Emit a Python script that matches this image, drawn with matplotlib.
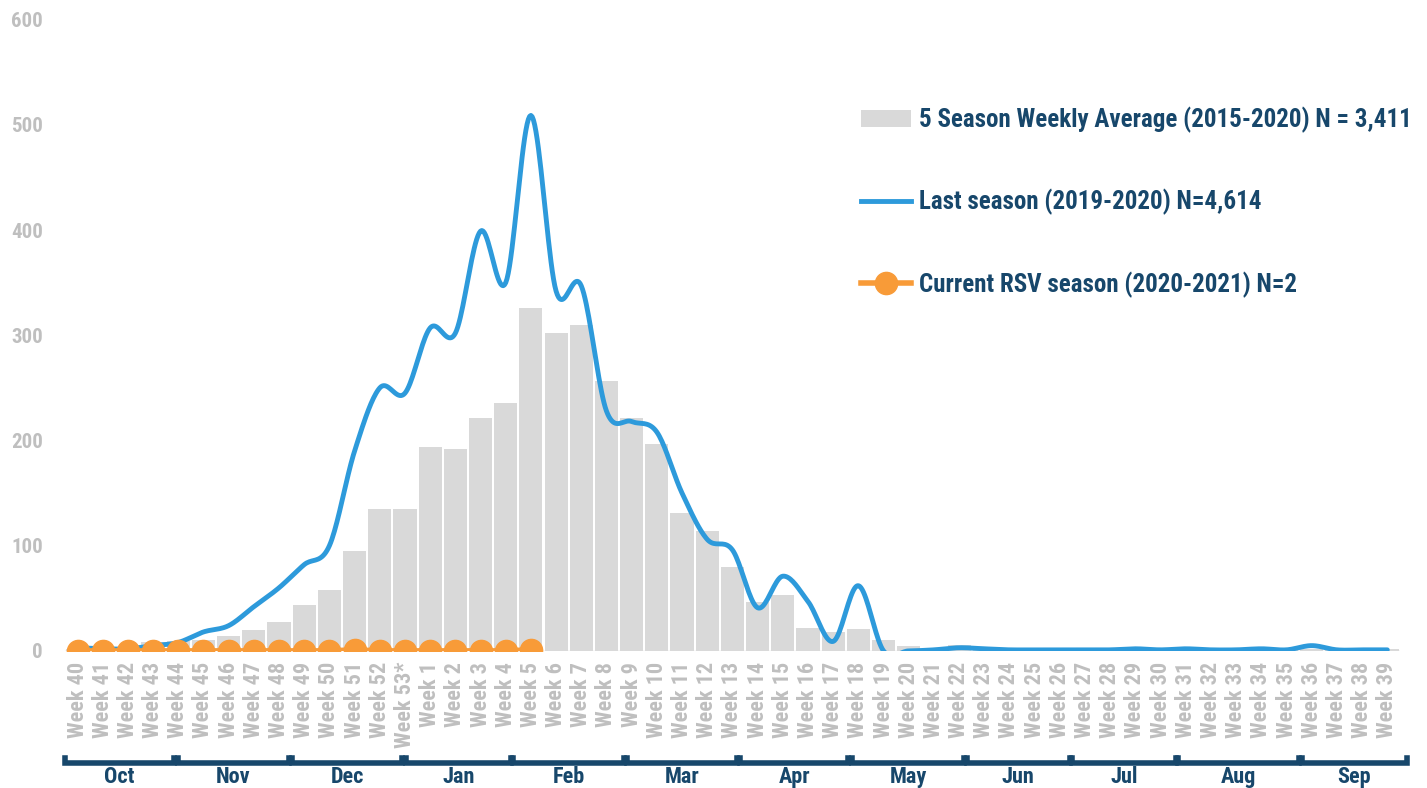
import numpy as np
import matplotlib
matplotlib.use("Agg")
import matplotlib.pyplot as plt
from matplotlib.lines import Line2D
from matplotlib.patches import Patch
from matplotlib.transforms import blended_transform_factory

plt.rcParams['font.family'] = ['Roboto Condensed', 'Roboto', 'DejaVu Sans']
plt.rcParams['font.weight'] = 'bold'

# week labels, Oct -> Sep
week_numbers = list(range(40, 54)) + list(range(1, 40))
week_labels = [f"Week {w}*" if w == 53 else f"Week {w}" for w in week_numbers]

# 5 season weekly average (bars)
avg_5season = [2, 2, 3, 8, 9, 10, 14, 20, 27, 44, 58, 95, 135, 135,
               194, 192, 221, 236, 326, 302, 310, 257, 221, 197, 131, 114, 80, 46,
               53, 22, 18, 21, 10, 5, 3, 6, 2, 2, 2, 2, 2, 2, 2, 2, 2, 2, 2, 2,
               3, 2, 2, 2, 2]

# last season 2019-2020
last_season = [3, 2, 2, 5, 8, 18, 24, 42, 60, 82, 100, 190, 250, 245,
               307, 302, 399, 350, 509, 342, 347, 228, 218, 208, 150, 106, 96, 41,
               71, 47, 9, 62, 0, 0, 1, 3, 2, 1, 1, 1, 1, 1, 2, 1, 2, 1, 1, 2,
               1, 5, 1, 1, 1]

# current season 2020-2021 (weeks 40 .. 5)
current_season = [0, 0, 0, 0, 0, 0, 0, 0, 0, 0, 0, 1, 0, 0, 0, 0, 0, 0, 1]

months = ['Oct', 'Nov', 'Dec', 'Jan', 'Feb', 'Mar', 'Apr', 'May', 'Jun', 'Jul', 'Aug', 'Sep']
# bracket extents in bar-index units (layout only)
month_spans = [(-0.5, 3.85), (3.97, 8.4), (8.5, 12.9), (13.05, 17.2), (17.3, 21.7),
               (21.8, 26.2), (26.3, 30.6), (30.75, 35.2), (35.3, 39.4), (39.5, 43.6),
               (43.7, 48.5), (48.6, 52.8)]

GREY_BAR = '#D9D9D9'
GREY_TXT = '#BFBFBF'
BLUE = '#2D9ADB'
ORANGE = '#F89B38'
NAVY = '#17476B'


def smooth(y, n=20):
    # Bezier smoothing through the points, like a spreadsheet "smoothed line"
    y = np.asarray(y, float)
    x = np.arange(len(y), dtype=float)
    px = np.concatenate([[x[0]], x, [x[-1]]])
    py = np.concatenate([[y[0]], y, [y[-1]]])
    t = np.linspace(0, 1, n, endpoint=False)

    def bez(a, c1, c2, d):
        return ((1 - t) ** 3 * a + 3 * (1 - t) ** 2 * t * c1
                + 3 * (1 - t) * t ** 2 * c2 + t ** 3 * d)

    xs, ys = [], []
    for i in range(1, len(px) - 2):
        c1y = py[i] + (py[i + 1] - py[i - 1]) / 6
        c2y = py[i + 1] - (py[i + 2] - py[i]) / 6
        c1x = px[i] + (px[i + 1] - px[i - 1]) / 6
        c2x = px[i + 1] - (px[i + 2] - px[i]) / 6
        xs.append(bez(px[i], c1x, c2x, px[i + 1]))
        ys.append(bez(py[i], c1y, c2y, py[i + 1]))
    xs.append([x[-1]])
    ys.append([y[-1]])
    return np.concatenate(xs), np.concatenate(ys)


fig = plt.figure(figsize=(14.27, 7.88), dpi=100)
ax = fig.add_axes([0.0455, 0.174, 0.9355, 0.801])

idx = np.arange(len(week_labels))
ax.bar(idx, avg_5season, width=0.92, color=GREY_BAR, zorder=1)

sx, sy = smooth(last_season)
ax.plot(sx, sy, color=BLUE, lw=3.5, zorder=3, solid_capstyle='round')

cx = np.arange(len(current_season))
ax.plot(cx, current_season, color=ORANGE, lw=4, marker='o', markersize=16,
        zorder=4)

ax.axhline(0, color='#D9D9D9', lw=1, zorder=0)

ax.set_xlim(-0.5, len(week_labels) - 0.5)
ax.set_ylim(0, 600)
ax.set_yticks(range(0, 601, 100))
ax.set_xticks(idx)
ax.set_xticklabels(week_labels, rotation=90, color=GREY_TXT, fontsize=16,
                   va='top', ha='center')
ax.tick_params(axis='y', labelcolor=GREY_TXT, labelsize=15, length=0, pad=16)
ax.tick_params(axis='x', length=0, pad=8)
for s in ax.spines.values():
    s.set_visible(False)

# month brackets under the week labels
tr = blended_transform_factory(ax.transData, ax.transAxes)
y_br, y_tip, y_lab = -0.178, -0.169, -0.2
for name, (a, b) in zip(months, month_spans):
    ax.plot([a, a, b, b], [y_tip, y_br, y_br, y_tip], color=NAVY, lw=4,
            transform=tr, clip_on=False, solid_joinstyle='miter')
    ax.text((a + b) / 2, y_lab, name, transform=tr, ha='center', va='center',
            color=NAVY, fontsize=16, fontweight='bold')

handles = [
    Patch(facecolor=GREY_BAR, edgecolor='none'),
    Line2D([], [], color=BLUE, lw=3.5),
    Line2D([], [], color=ORANGE, lw=4, marker='o', markersize=16),
]
labels = [
    '5 Season Weekly Average (2015-2020) N = 3,411',
    'Last season (2019-2020) N=4,614',
    'Current RSV season (2020-2021) N=2',
]
leg = fig.legend(handles, labels, loc='upper left',
                 bbox_to_anchor=(838 / 1427, 1 - 84 / 788), frameon=False,
                 fontsize=18, labelspacing=2.25, handlelength=2.0,
                 handletextpad=0.35, handleheight=0.7)
for t in leg.get_texts():
    t.set_color(NAVY)
    t.set_fontweight('bold')

fig.savefig('out.png', dpi=100)
